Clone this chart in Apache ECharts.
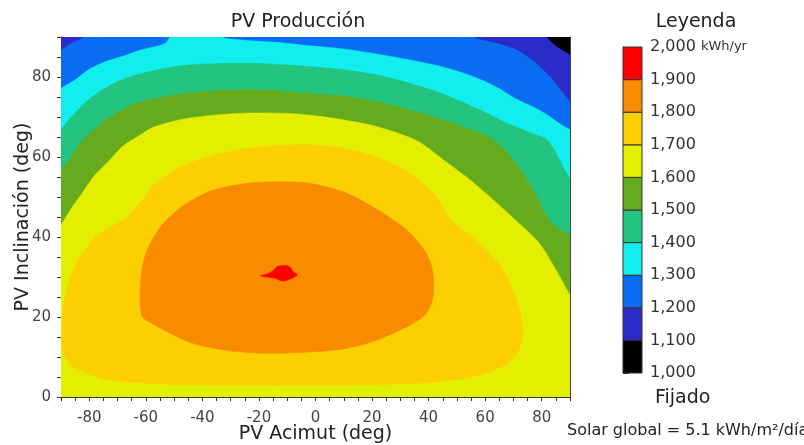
<!DOCTYPE html>
<html><head><meta charset="utf-8">
<script src="https://cdn.jsdelivr.net/npm/echarts@6.0.0/dist/echarts.min.js"></script>
<style>html,body{margin:0;padding:0;background:#fff}#c{width:804px;height:445px}</style>
</head><body><div id="c"></div>
<script>
// Axis ranges / tick labels
const azimuthRange = [-90, 90];
const tiltRange = [0, 90];
const xLabelValues = [-80, -60, -40, -20, 0, 20, 40, 60, 80];
const yLabelValues = [0, 20, 40, 60, 80];

// Legend levels (kWh/yr) and band colours (band i = levels[i]..levels[i+1])
const legendLevels = [1000, 1100, 1200, 1300, 1400, 1500, 1600, 1700, 1800, 1900, 2000];
const bandColors = ['#000000', '#2b2bc8', '#0a6cf0', '#12eeee', '#22c47f', '#66aa1e', '#e4ee00', '#fccf00', '#f98b00', '#ff0000'];

// Contour lines [azimuth, tilt] (from right/top edge towards left edge)
const contour1100 = [[90, 85.5], [86.5, 87], [84, 88.3], [81.7, 90]];
const contour1200a = [[90, 73.8], [86.4, 77], [83, 80], [78, 83.4], [71, 86.8], [64, 88.4], [55.8, 90]];
const contour1200b = [[-82.1, 90], [-86, 88.5], [-90, 86.7]];
const contour1300a = [[90, 66.8], [86, 68.5], [82, 70.5], [77, 72.5], [71, 74.5], [64, 77.5], [55, 80.3], [45, 82.5],
  [33, 84.3], [22, 85.7], [10, 87], [-2, 87.8], [-13, 88.6], [-27, 89.3], [-33, 90]];
const contour1300b = [[-51.5, 90], [-53.2, 88.4], [-61.5, 86.8], [-68.5, 85.1], [-74.4, 83.8], [-80.3, 81.8], [-85, 79.3], [-90, 77.2]];
const contour1400 = [[90, 54.5], [88, 57], [85, 61], [81.8, 64.3], [77, 65.8], [72, 67.2], [66, 69], [59, 71.5], [51, 74],
  [43, 76.3], [33, 78.5], [22, 80.5], [10, 81.8], [0, 82.5], [-10, 83], [-21, 83.4], [-33, 83.4], [-45, 83], [-53, 82.2],
  [-61.5, 80.9], [-68.5, 79.3], [-74.4, 77.2], [-80.3, 74.3], [-86.2, 70.1], [-90, 66.8]];
const contour1500 = [[90, 40.5], [85, 42.5], [81.8, 45], [77, 51.8], [69.8, 59.3], [62.8, 64.3], [55, 66.8], [45, 69.3],
  [33, 71.8], [22, 73.8], [10, 75.2], [-2, 75.9], [-21, 76.8], [-39, 76.4], [-53, 75.2], [-65, 73], [-74, 69.3], [-78, 67],
  [-82.7, 64], [-86, 60.5], [-90, 56.5]];
const contour1600 = [[90, 25.5], [84.7, 32.2], [78.7, 38.8], [69.5, 45], [62.8, 49.3], [54.6, 54.3], [45.2, 59.3], [36, 64],
  [21.6, 67.6], [9.8, 69.3], [0, 70.3], [-9.6, 70.9], [-27.3, 70.9], [-45, 69.7], [-56.8, 67.6], [-62, 65.5], [-68.5, 62.5],
  [-73, 59], [-78, 55.5], [-82.5, 51], [-86.5, 47], [-90, 43]];
// Closed contours
const contour1700 = [[-67.5, 44.5], [-61, 49.5], [-56.8, 53.4], [-45, 58.4], [-27.3, 61.8], [-9.6, 63], [0, 63], [9.8, 62.2],
  [21.6, 60], [33.4, 55.9], [42.8, 50], [47.5, 44.5], [57.5, 38.8], [66, 32.2], [70.5, 25.5], [73, 18.8], [72.3, 12.3],
  [67, 8], [55.3, 5], [37.6, 3.5], [2.3, 3], [-33, 3], [-56.8, 3.3], [-74.4, 4.5], [-85, 7.3], [-89.3, 11], [-89.5, 18],
  [-88.6, 24.8], [-85, 33], [-77, 40.5]];
const contour1800 = [[-61.5, 20.5], [-61.5, 31.3], [-59.2, 37.3], [-54.3, 43], [-50, 46], [-45.4, 48.5], [-36.3, 51.7],
  [-23.2, 53.5], [-10, 53.8], [-1, 53.3], [11, 51], [22.8, 46.5], [28, 44], [32.7, 41.5], [38.7, 36.5], [41.5, 31.3],
  [41.5, 24.8], [38.7, 20.5], [31.6, 17.3], [20, 13.8], [8, 11.8], [-9.7, 11], [-20, 11], [-33, 11.8], [-45, 13.8], [-56.8, 18]];
const contour1900 = [[-19.5, 30.3], [-17, 30.8], [-15, 31.6], [-13.5, 32.6], [-11, 32.9], [-9, 32.5], [-8, 31.4], [-6.5, 30.6],
  [-7.5, 30], [-10, 29.2], [-12, 29], [-14, 29.6], [-17, 30]];

// Build the ">= level" regions: open contours are closed outside the plot (clipped away)
const X0 = azimuthRange[0], X1 = azimuthRange[1], Y1 = tiltRange[1];
function extend(p, q) {
  const dx = p[0] - q[0], dy = p[1] - q[1], d = Math.hypot(dx, dy) || 1;
  const e = [p[0] + dx / d * 4, p[1] + dy / d * 4];
  if (p[1] >= Y1) e[1] = Math.max(e[1], Y1 + 3);
  if (p[0] >= X1) e[0] = Math.max(e[0], X1 + 3);
  if (p[0] <= X0) e[0] = Math.min(e[0], X0 - 3);
  return e;
}
function openRegion(pieces) {
  const pts = [[X0 - 10, -10], [X1 + 10, -10]];
  pieces.forEach(pc => {
    pts.push(extend(pc[0], pc[1]));
    pc.forEach(p => pts.push(p));
    pts.push(extend(pc[pc.length - 1], pc[pc.length - 2]));
  });
  const last = pieces[pieces.length - 1];
  if (last[last.length - 1][1] >= Y1) pts.push([X0 - 10, Y1 + 10]);
  return pts;
}
const regions = [
  {pts: [[X0 - 10, -10], [X1 + 10, -10], [X1 + 10, Y1 + 10], [X0 - 10, Y1 + 10]], smooth: 0},
  {pts: openRegion([contour1100]), smooth: 0.3},
  {pts: openRegion([contour1200a, contour1200b]), smooth: 0.3},
  {pts: openRegion([contour1300a, contour1300b]), smooth: 0.3},
  {pts: openRegion([contour1400]), smooth: 0.3},
  {pts: openRegion([contour1500]), smooth: 0.3},
  {pts: openRegion([contour1600]), smooth: 0.3},
  {pts: contour1700, smooth: 0.3},
  {pts: contour1800, smooth: 0.3},
  {pts: contour1900, smooth: 0.4}
];

const FONT = 'DejaVu Sans';
const chart = echarts.init(document.getElementById('c'), null, {renderer: 'canvas'});
const fmt = v => String(v).replace(/(\d)(\d{3})$/, '$1,$2');

chart.setOption({
  animation: false,
  backgroundColor: '#ffffff',
  title: [
    {text: 'PV Producción', left: 293, top: 8, textAlign: 'center',
      textStyle: {fontFamily: FONT, fontSize: 19, fontWeight: 'normal', color: '#222'}},
    {text: 'Leyenda', left: 691, top: 8, textAlign: 'center',
      textStyle: {fontFamily: FONT, fontSize: 19, fontWeight: 'normal', color: '#222'}}
  ],
  grid: [
    {left: 61, top: 37, width: 509, height: 360, containLabel: false, outerBoundsMode: 'none'},
    {left: 623, top: 47, width: 19, height: 326, containLabel: false, outerBoundsMode: 'none'}
  ],
  xAxis: [
    {type: 'value', gridIndex: 0, min: X0, max: X1, interval: 5, position: 'bottom',
      name: 'PV Acimut (deg)', nameLocation: 'middle', nameGap: 28, nameMoveOverlap: false,
      nameTextStyle: {fontFamily: FONT, fontSize: 19, color: '#222'},
      axisLine: {show: true, onZero: false, lineStyle: {color: '#333', width: 1}},
      axisTick: {show: true, length: 4, inside: false, lineStyle: {color: '#333'}},
      axisLabel: {margin: 14, fontFamily: FONT, fontSize: 15, color: '#444',
        formatter: v => xLabelValues.indexOf(v) >= 0 ? String(v) : ''},
      splitLine: {show: false}},
    {type: 'value', gridIndex: 0, min: X0, max: X1, position: 'top',
      axisLine: {show: true, onZero: false, lineStyle: {color: '#999', width: 1, type: 'dashed'}},
      axisTick: {show: false}, axisLabel: {show: false}, splitLine: {show: false}},
    {type: 'value', gridIndex: 1, min: 0, max: 1, show: false}
  ],
  yAxis: [
    {type: 'value', gridIndex: 0, min: tiltRange[0], max: Y1, interval: 5, position: 'left',
      name: 'PV Inclinación (deg)', nameLocation: 'middle', nameGap: 28, nameRotate: 90, nameMoveOverlap: false,
      nameTextStyle: {fontFamily: FONT, fontSize: 19, color: '#222'},
      axisLine: {show: true, onZero: false, lineStyle: {color: '#333', width: 1}},
      axisTick: {show: true, length: 4, inside: false, lineStyle: {color: '#333'}},
      axisLabel: {margin: 10, fontFamily: FONT, fontSize: 15, color: '#444',
        formatter: v => yLabelValues.indexOf(v) >= 0 ? String(v) : ''},
      splitLine: {show: false}},
    {type: 'value', gridIndex: 0, min: tiltRange[0], max: Y1, position: 'right',
      axisLine: {show: true, onZero: false, lineStyle: {color: '#444', width: 1}},
      axisTick: {show: false}, axisLabel: {show: false}, splitLine: {show: false}},
    {type: 'value', gridIndex: 1, min: legendLevels[0], max: legendLevels[legendLevels.length - 1], interval: 100,
      position: 'right',
      axisLine: {show: true, lineStyle: {color: '#333', width: 1}},
      axisTick: {show: true, length: 6, inside: false, lineStyle: {color: '#333'}},
      axisLabel: {margin: 8, fontFamily: FONT, fontSize: 16, color: '#333',
        formatter: v => v === 2000 ? '{a|' + fmt(v) + ' }{b|kWh/yr}' : fmt(v),
        rich: {a: {fontFamily: FONT, fontSize: 16, color: '#333'}, b: {fontFamily: FONT, fontSize: 13, color: '#333'}}},
      splitLine: {show: false}}
  ],
  graphic: [
    {type: 'text', left: 655, top: 389, style: {text: 'Fijado', font: '19px "DejaVu Sans"', fill: '#222'}},
    {type: 'text', left: 567, top: 423, style: {text: 'Solar global = 5.1 kWh/m²/día', font: '16px "DejaVu Sans"', fill: '#222'}}
  ],
  series: [
    {
      type: 'custom', xAxisIndex: 0, yAxisIndex: 0, silent: true, clip: true, z: 1,
      data: regions.map((r, i) => [i, 0]),
      renderItem: (params, api) => {
        const i = params.dataIndex;
        return {type: 'polygon', shape: {points: regions[i].pts.map(p => api.coord(p)), smooth: regions[i].smooth},
          style: {fill: bandColors[i], stroke: bandColors[i], lineWidth: 0.5}};
      }
    },
    {
      type: 'custom', xAxisIndex: 2, yAxisIndex: 2, silent: true, z: 1,
      data: legendLevels.slice(0, -1).map((v, i) => [0, v, i]),
      renderItem: (params, api) => {
        const i = params.dataIndex;
        const lo = legendLevels[i], hi = legendLevels[i + 1];
        const p0 = api.coord([0, hi]), p1 = api.coord([1, lo]);
        return {type: 'rect', shape: {x: p0[0], y: p0[1], width: p1[0] - p0[0], height: p1[1] - p0[1]},
          style: {fill: bandColors[i], stroke: '#333', lineWidth: 1}};
      }
    }
  ]
});
</script></body></html>
